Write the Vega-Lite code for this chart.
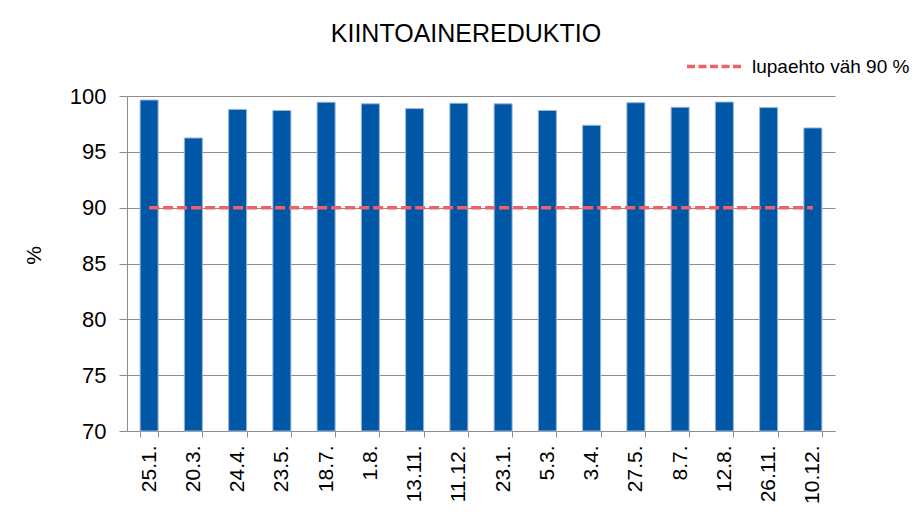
{
  "$schema": "https://vega.github.io/schema/vega-lite/v6.json",
  "autosize": "none",
  "width": 708,
  "height": 335,
  "padding": {"left": 127, "top": 96, "right": 89, "bottom": 84},
  "background": "white",
  "title": {
    "text": "KIINTOAINEREDUKTIO",
    "font": "Liberation Sans",
    "fontSize": 25,
    "fontWeight": "normal",
    "color": "#000000",
    "anchor": "middle",
    "dx": -15,
    "dy": 52,
    "offset": 42
  },
  "data": {
    "values": [
      {"date": "25.1.", "value": 99.64, "limit": 90},
      {"date": "20.3.", "value": 96.24, "limit": 90},
      {"date": "24.4.", "value": 98.8, "limit": 90},
      {"date": "23.5.", "value": 98.7, "limit": 90},
      {"date": "18.7.", "value": 99.44, "limit": 90},
      {"date": "1.8.", "value": 99.3, "limit": 90},
      {"date": "13.11.", "value": 98.87, "limit": 90},
      {"date": "11.12.", "value": 99.35, "limit": 90},
      {"date": "23.1.", "value": 99.3, "limit": 90},
      {"date": "5.3.", "value": 98.7, "limit": 90},
      {"date": "3.4.", "value": 97.38, "limit": 90},
      {"date": "27.5.", "value": 99.4, "limit": 90},
      {"date": "8.7.", "value": 98.99, "limit": 90},
      {"date": "12.8.", "value": 99.46, "limit": 90},
      {"date": "26.11.", "value": 98.96, "limit": 90},
      {"date": "10.12.", "value": 97.14, "limit": 90}
    ]
  },
  "encoding": {
    "x": {
      "field": "date",
      "type": "nominal",
      "sort": null,
      "scale": {"paddingInner": 0.593, "paddingOuter": 0.2965},
      "axis": {
        "title": null,
        "labelAngle": -90,
        "labelFont": "Liberation Sans",
        "labelFontSize": 21,
        "labelColor": "#000000",
        "labelPadding": 8,
        "tickBand": "extent",
        "tickSize": 6,
        "tickColor": "#8c8c8c",
        "domainColor": "#8c8c8c",
        "grid": false
      }
    }
  },
  "layer": [
    {
      "mark": {"type": "bar", "color": "#0057A5", "stroke": "#9AB6DA", "strokeWidth": 1},
      "encoding": {
        "y": {
          "field": "value",
          "type": "quantitative",
          "scale": {"domain": [70, 100], "zero": false, "nice": false},
          "axis": {
            "title": "%",
            "titleFont": "Liberation Sans",
            "titleFontSize": 21,
            "titleFontWeight": "normal",
            "titleColor": "#000000",
            "titleX": -93,
            "titleY": 159,
            "titleAngle": -90,
            "titleAlign": "center",
            "titleBaseline": "middle",
            "values": [70, 75, 80, 85, 90, 95, 100],
            "labelFont": "Liberation Sans",
            "labelFontSize": 22,
            "labelColor": "#000000",
            "labelPadding": 13,
            "tickSize": 8,
            "tickColor": "#8c8c8c",
            "domainColor": "#8c8c8c",
            "grid": true,
            "gridColor": "#8c8c8c",
            "gridWidth": 1
          }
        },
        "y2": {"datum": 70}
      }
    },
    {
      "mark": {"type": "line", "strokeWidth": 3.5, "strokeDash": [10, 4]},
      "encoding": {
        "y": {"field": "limit", "type": "quantitative"},
        "color": {
          "datum": "lupaehto väh 90 %",
          "scale": {"range": ["#EF6068"]},
          "legend": {
            "title": null,
            "orient": "none",
            "legendX": 558,
            "legendY": -59,
            "symbolType": "stroke",
            "symbolSize": 3025,
            "symbolStrokeWidth": 3.5,
            "symbolDash": [8, 3.5],
            "labelFont": "Liberation Sans",
            "labelFontSize": 19,
            "labelColor": "#000000",
            "labelOffset": 8,
            "padding": 0
          }
        }
      }
    }
  ],
  "config": {
    "view": {"stroke": null}
  }
}
